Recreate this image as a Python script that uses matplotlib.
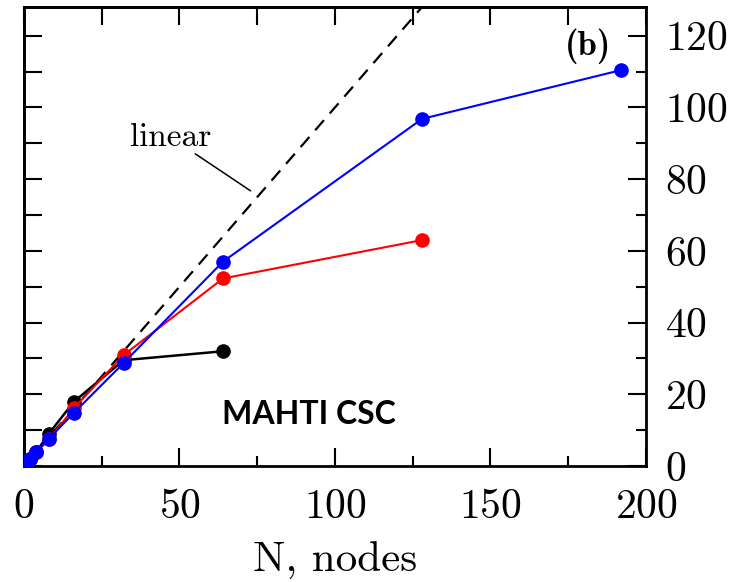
import matplotlib
matplotlib.use("Agg")
import matplotlib.pyplot as plt
import numpy as np

plt.rcParams['font.family'] = 'cmr10'
plt.rcParams['axes.formatter.use_mathtext'] = True
plt.rcParams['mathtext.fontset'] = 'cm'

# data
nodes_black = [1, 2, 4, 8, 16, 32, 64]
speed_black = [1, 2, 4, 9.0, 17.9, 29.5, 32.0]
nodes_red = [1, 2, 4, 8, 16, 32, 64, 128]
speed_red = [1, 2, 3.9, 7.4, 16.1, 30.9, 52.3, 63.0]
nodes_blue = [1, 2, 4, 8, 16, 32, 64, 128, 192]
speed_blue = [1, 2, 3.9, 7.6, 14.8, 28.7, 57.0, 96.8, 110.4]
linear_x = [0, 200]
linear_y = [0, 200]
xticks = [0, 50, 100, 150, 200]
yticks = [0, 20, 40, 60, 80, 100, 120]

fig = plt.figure(figsize=(7.34, 5.82), dpi=100)
ax = fig.add_axes([0.0327, 0.1993, 0.8474, 0.7887])

ax.plot(linear_x, linear_y, color='black', lw=1.6, ls=(0, (6, 4)), zorder=2)
ax.plot(nodes_black, speed_black, color='black', lw=1.8, marker='o', ms=9.5, zorder=3)
ax.plot(nodes_red, speed_red, color='#ff0000', lw=1.5, marker='o', ms=9.5, zorder=4)
ax.plot(nodes_blue, speed_blue, color='#0000ff', lw=1.5, marker='o', ms=9.5, zorder=5)

ax.set_xlim(0, 200)
ax.set_ylim(0, 128)
ax.set_xticks(xticks)
ax.set_xticks(np.arange(0, 201, 25), minor=True)
ax.set_yticks(yticks)
ax.set_yticks(np.arange(0, 128, 10), minor=True)

ax.yaxis.tick_right()
ax.tick_params(axis='both', which='major', direction='in', length=13, width=1.5,
               labelsize=30)
ax.tick_params(axis='both', which='minor', direction='in', length=7, width=1.5)
ax.tick_params(axis='x', which='major', top=False, bottom=True, pad=16)
ax.tick_params(axis='x', which='minor', top=False, bottom=True)
ax.tick_params(axis='y', which='major', left=False, right=True, pad=14)
ax.tick_params(axis='y', which='minor', left=False, right=True)

# left and top ticks (all same length)
secx = ax.secondary_xaxis('top')
secx.set_xticks(np.arange(0, 201, 25))
secx.tick_params(direction='in', length=13, width=1.5, labeltop=False)
secy = ax.secondary_yaxis('left')
secy.set_yticks(np.arange(0, 128, 10))
secy.tick_params(direction='in', length=13, width=1.5, labelleft=False)
for s in [secx.spines['top'], secy.spines['left']]:
    s.set_linewidth(2)

for sp in ax.spines.values():
    sp.set_linewidth(2)

ax.set_xlabel('N, nodes', fontsize=31)
ax.xaxis.set_label_coords(0.5, -0.165)
ax.xaxis.label.set_va('top')

ax.text(47.3, 91.6, 'linear', fontsize=24, ha='center', va='center')
ax.annotate('', xy=(73.6, 76.3), xytext=(54.3, 87.5),
            arrowprops=dict(arrowstyle='-', color='black', lw=1.1))
ax.text(181.4, 117, '(b)', fontsize=25, family='cmb10', ha='center', va='center')
ax.text(91.6, 14.5, 'MAHTI CSC', fontsize=23, family='Lato', fontweight='bold',
        ha='center', va='center')

fig.savefig('out.png', dpi=100)
